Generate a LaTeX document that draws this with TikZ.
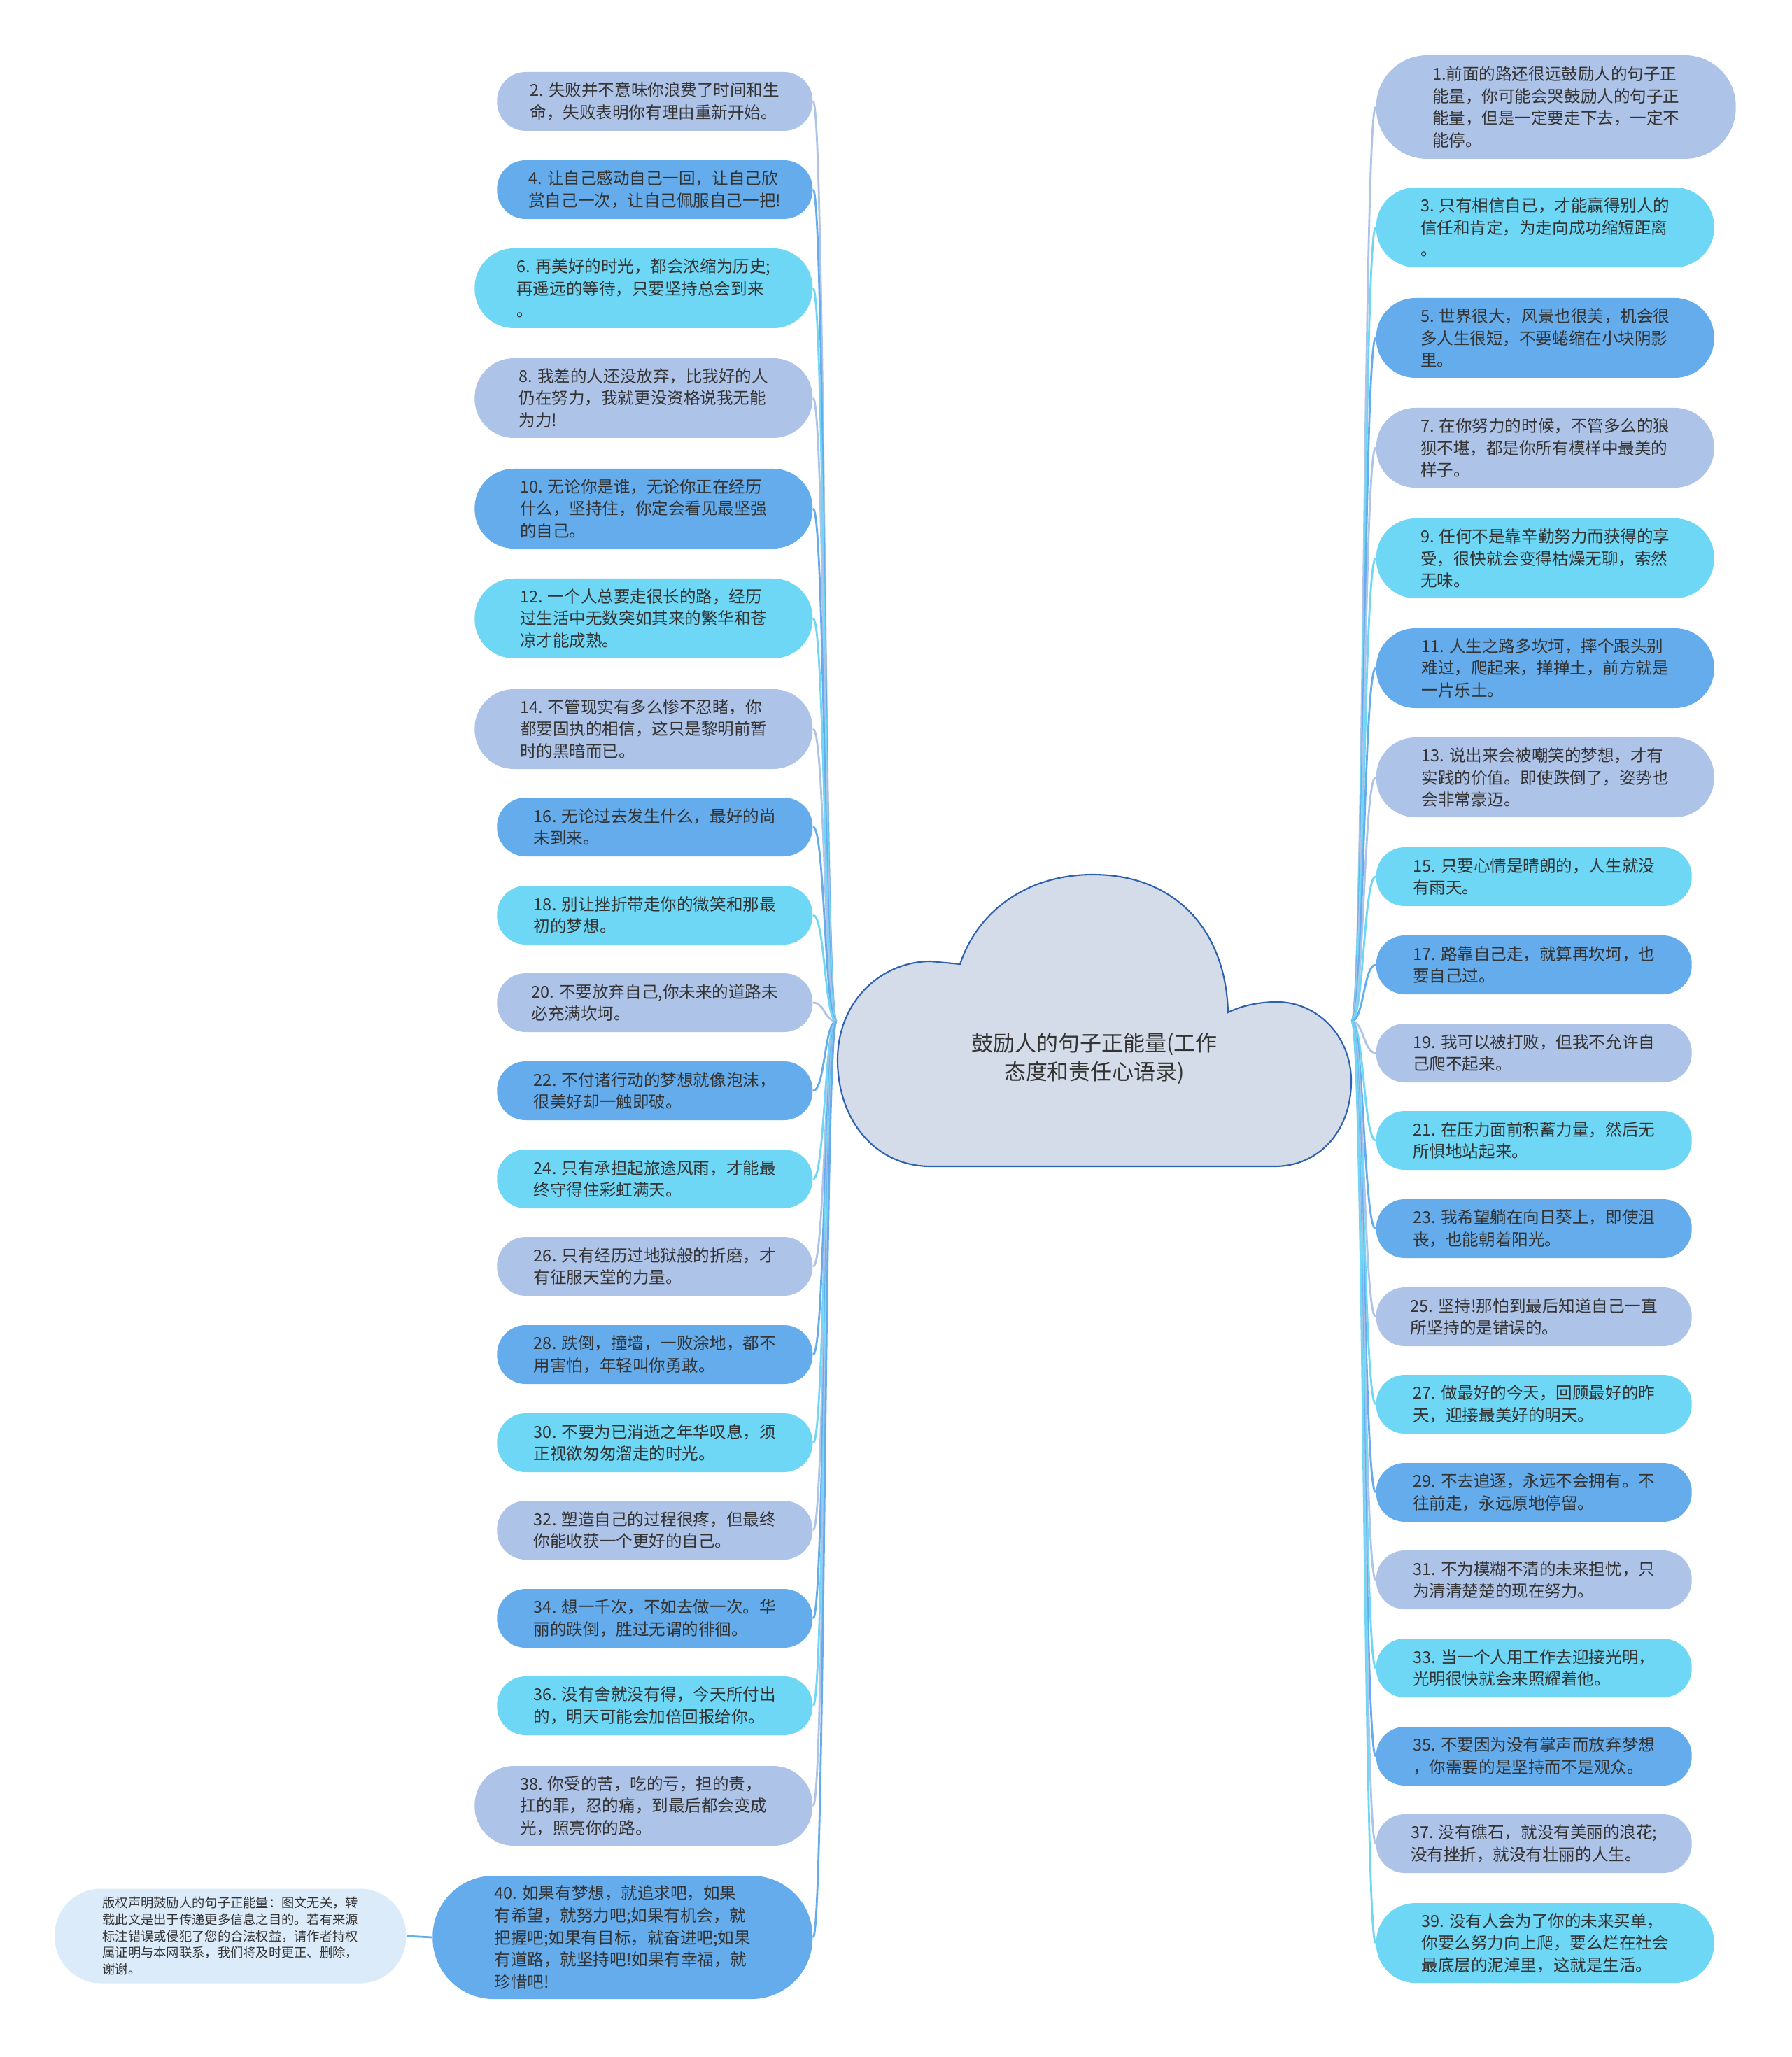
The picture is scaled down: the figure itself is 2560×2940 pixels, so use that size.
\documentclass[tikz,border=0pt]{standalone}
\usepackage{fontspec}
\newfontfamily\cjk{Noto Sans CJK SC}
\definecolor{lavfill}{HTML}{AEC3E8}
\definecolor{bluefill}{HTML}{64ACEC}
\definecolor{cyanfill}{HTML}{6DD7F5}
\definecolor{notefill}{HTML}{DCEBF9}
\definecolor{cloudfill}{HTML}{D3DCE8}
\definecolor{cloudline}{HTML}{2E62B0}
\definecolor{inkc}{HTML}{333333}

\begin{document}
\begin{tikzpicture}[
  x=0.1mm, y=-0.1mm,
  leaf/.style={rectangle, inner sep=0pt, align=left, text=inkc, font=\cjk\fontsize{6.7pt}{9pt}\selectfont},
  pillA/.style={leaf, minimum width=45.1mm, minimum height=8.4mm, rounded corners=4.1mm},
  pillB/.style={leaf, minimum width=48.3mm, minimum height=11.4mm, rounded corners=5.6mm},
  pillC/.style={leaf, minimum width=51.4mm, minimum height=14.8mm, rounded corners=7.3mm},
  pillD/.style={leaf, minimum width=54.3mm, minimum height=17.6mm, rounded corners=8.7mm},
  lav/.style={fill=lavfill}, blu/.style={fill=bluefill}, cya/.style={fill=cyanfill},
  linkl/.style={line width=0.8pt, out=180, in=0, out distance=1.7mm, in distance=1.7mm},
  linkr/.style={line width=0.8pt, out=0, in=180, out distance=1.7mm, in distance=1.7mm}
]
\useasboundingbox[fill=white] (0,0) rectangle (2560,2940);

% Root cloud
\node[minimum width=73.5mm, minimum height=41.9mm, inner sep=0pt] (root) at (1563.5,1459.5) {};
\draw[cloudline, fill=cloudfill, line width=0.6pt]
  (1330,1667) .. controls (1250,1667) and (1197,1600) .. (1197,1515)
  .. controls (1197,1430) and (1260,1374) .. (1330,1374)
  -- (1372,1378)
  .. controls (1398,1300) and (1470,1250) .. (1562,1250)
  .. controls (1680,1250) and (1752,1330) .. (1755,1447)
  .. controls (1775,1437) and (1800,1432) .. (1825,1432)
  .. controls (1882,1432) and (1931,1480) .. (1931,1545)
  .. controls (1931,1620) and (1882,1667) .. (1822,1667)
  -- cycle;
\node[font=\cjk\fontsize{8.8pt}{11.7pt}\selectfont, text=inkc, align=center] (title) at (1564,1513)
  {鼓励人的句子正能量(工作\\态度和责任心语录)};

% Left branch
\node[pillA, lav, anchor=east] (n2) at (1162,145) {2. 失败并不意味你浪费了时间和生\\命，失败表明你有理由重新开始。};
\node[pillA, blu, anchor=east] (n4) at (1162,271) {4. 让自己感动自己一回，让自己欣\\赏自己一次，让自己佩服自己一把!};
\node[pillB, cya, anchor=east] (n6) at (1162,412) {6. 再美好的时光，都会浓缩为历史;\\再遥远的等待，只要坚持总会到来\\。};
\node[pillB, lav, anchor=east] (n8) at (1162,569) {8. 我差的人还没放弃，比我好的人\\仍在努力，我就更没资格说我无能\\为力!};
\node[pillB, blu, anchor=east] (n10) at (1162,727) {10. 无论你是谁，无论你正在经历\\什么，坚持住，你定会看见最坚强\\的自己。};
\node[pillB, cya, anchor=east] (n12) at (1162,884) {12. 一个人总要走很长的路，经历\\过生活中无数突如其来的繁华和苍\\凉才能成熟。};
\node[pillB, lav, anchor=east] (n14) at (1162,1042) {14. 不管现实有多么惨不忍睹，你\\都要固执的相信，这只是黎明前暂\\时的黑暗而已。};
\node[pillA, blu, anchor=east] (n16) at (1162,1182) {16. 无论过去发生什么，最好的尚\\未到来。};
\node[pillA, cya, anchor=east] (n18) at (1162,1308) {18. 别让挫折带走你的微笑和那最\\初的梦想。};
\node[pillA, lav, anchor=east] (n20) at (1162,1433) {20. 不要放弃自己,你未来的道路未\\必充满坎坷。};
\node[pillA, blu, anchor=east] (n22) at (1162,1559) {22. 不付诸行动的梦想就像泡沫，\\很美好却一触即破。};
\node[pillA, cya, anchor=east] (n24) at (1162,1685) {24. 只有承担起旅途风雨，才能最\\终守得住彩虹满天。};
\node[pillA, lav, anchor=east] (n26) at (1162,1810) {26. 只有经历过地狱般的折磨，才\\有征服天堂的力量。};
\node[pillA, blu, anchor=east] (n28) at (1162,1936) {28. 跌倒，撞墙，一败涂地，都不\\用害怕，年轻叫你勇敢。};
\node[pillA, cya, anchor=east] (n30) at (1162,2062) {30. 不要为已消逝之年华叹息，须\\正视欲匆匆溜走的时光。};
\node[pillA, lav, anchor=east] (n32) at (1162,2187) {32. 塑造自己的过程很疼，但最终\\你能收获一个更好的自己。};
\node[pillA, blu, anchor=east] (n34) at (1162,2313) {34. 想一千次，不如去做一次。华\\丽的跌倒，胜过无谓的徘徊。};
\node[pillA, cya, anchor=east] (n36) at (1162,2438) {36. 没有舍就没有得，今天所付出\\的，明天可能会加倍回报给你。};
\node[pillB, lav, anchor=east] (n38) at (1162,2581) {38. 你受的苦，吃的亏，担的责，\\扛的罪，忍的痛，到最后都会变成\\光，照亮你的路。};
\node[pillD, blu, anchor=east] (n40) at (1162,2769) {40. 如果有梦想，就追求吧，如果\\有希望，就努力吧;如果有机会，就\\把握吧;如果有目标，就奋进吧;如果\\有道路，就坚持吧!如果有幸福，就\\珍惜吧!};

% Right branch
\node[pillC, lav, anchor=west] (n1) at (1966,153) {1.前面的路还很远鼓励人的句子正\\能量，你可能会哭鼓励人的句子正\\能量，但是一定要走下去，一定不\\能停。};
\node[pillB, cya, anchor=west] (n3) at (1966,325) {3. 只有相信自已，才能赢得别人的\\信任和肯定，为走向成功缩短距离\\。};
\node[pillB, blu, anchor=west] (n5) at (1966,483) {5. 世界很大，风景也很美，机会很\\多人生很短，不要蜷缩在小块阴影\\里。};
\node[pillB, lav, anchor=west] (n7) at (1966,640) {7. 在你努力的时候，不管多么的狼\\狈不堪，都是你所有模样中最美的\\样子。};
\node[pillB, cya, anchor=west] (n9) at (1966,798) {9. 任何不是靠辛勤努力而获得的享\\受，很快就会变得枯燥无聊，索然\\无味。};
\node[pillB, blu, anchor=west] (n11) at (1966,955) {11. 人生之路多坎坷，摔个跟头别\\难过，爬起来，掸掸土，前方就是\\一片乐土。};
\node[pillB, lav, anchor=west] (n13) at (1966,1111) {13. 说出来会被嘲笑的梦想，才有\\实践的价值。即使跌倒了，姿势也\\会非常豪迈。};
\node[pillA, cya, anchor=west] (n15) at (1966,1253) {15. 只要心情是晴朗的，人生就没\\有雨天。};
\node[pillA, blu, anchor=west] (n17) at (1966,1379) {17. 路靠自己走，就算再坎坷，也\\要自己过。};
\node[pillA, lav, anchor=west] (n19) at (1966,1505) {19. 我可以被打败，但我不允许自\\己爬不起来。};
\node[pillA, cya, anchor=west] (n21) at (1966,1630) {21. 在压力面前积蓄力量，然后无\\所惧地站起来。};
\node[pillA, blu, anchor=west] (n23) at (1966,1756) {23. 我希望躺在向日葵上，即使沮\\丧，也能朝着阳光。};
\node[pillA, lav, anchor=west] (n25) at (1966,1882) {25. 坚持!那怕到最后知道自己一直\\所坚持的是错误的。};
\node[pillA, cya, anchor=west] (n27) at (1966,2007) {27. 做最好的今天，回顾最好的昨\\天，迎接最美好的明天。};
\node[pillA, blu, anchor=west] (n29) at (1966,2133) {29. 不去追逐，永远不会拥有。不\\往前走，永远原地停留。};
\node[pillA, lav, anchor=west] (n31) at (1966,2258) {31. 不为模糊不清的未来担忧，只\\为清清楚楚的现在努力。};
\node[pillA, cya, anchor=west] (n33) at (1966,2384) {33. 当一个人用工作去迎接光明，\\光明很快就会来照耀着他。};
\node[pillA, blu, anchor=west] (n35) at (1966,2510) {35. 不要因为没有掌声而放弃梦想\\，你需要的是坚持而不是观众。};
\node[pillA, lav, anchor=west] (n37) at (1966,2635) {37. 没有礁石，就没有美丽的浪花;\\没有挫折，就没有壮丽的人生。};
\node[pillB, cya, anchor=west] (n39) at (1966,2777) {39. 没有人会为了你的未来买单，\\你要么努力向上爬，要么烂在社会\\最底层的泥淖里，这就是生活。};

% Note
\node[leaf, fill=notefill, minimum width=50.2mm, minimum height=13.5mm, rounded corners=6.6mm,
  font=\cjk\fontsize{5.2pt}{6.8pt}\selectfont, anchor=east] (note) at (581,2767)
  {版权声明鼓励人的句子正能量：图文无关，转\\载此文是出于传递更多信息之目的。若有来源\\标注错误或侵犯了您的合法权益，请作者持权\\属证明与本网联系，我们将及时更正、删除，\\谢谢。};

% Connections
\draw[linkl, lavfill] (root.west) to (n2.east);
\draw[linkl, bluefill] (root.west) to (n4.east);
\draw[linkl, cyanfill] (root.west) to (n6.east);
\draw[linkl, lavfill] (root.west) to (n8.east);
\draw[linkl, bluefill] (root.west) to (n10.east);
\draw[linkl, cyanfill] (root.west) to (n12.east);
\draw[linkl, lavfill] (root.west) to (n14.east);
\draw[linkl, bluefill] (root.west) to (n16.east);
\draw[linkl, cyanfill] (root.west) to (n18.east);
\draw[linkl, lavfill] (root.west) to (n20.east);
\draw[linkl, bluefill] (root.west) to (n22.east);
\draw[linkl, cyanfill] (root.west) to (n24.east);
\draw[linkl, lavfill] (root.west) to (n26.east);
\draw[linkl, bluefill] (root.west) to (n28.east);
\draw[linkl, cyanfill] (root.west) to (n30.east);
\draw[linkl, lavfill] (root.west) to (n32.east);
\draw[linkl, bluefill] (root.west) to (n34.east);
\draw[linkl, cyanfill] (root.west) to (n36.east);
\draw[linkl, lavfill] (root.west) to (n38.east);
\draw[linkl, bluefill] (root.west) to (n40.east);
\draw[linkr, lavfill] (root.east) to (n1.west);
\draw[linkr, cyanfill] (root.east) to (n3.west);
\draw[linkr, bluefill] (root.east) to (n5.west);
\draw[linkr, lavfill] (root.east) to (n7.west);
\draw[linkr, cyanfill] (root.east) to (n9.west);
\draw[linkr, bluefill] (root.east) to (n11.west);
\draw[linkr, lavfill] (root.east) to (n13.west);
\draw[linkr, cyanfill] (root.east) to (n15.west);
\draw[linkr, bluefill] (root.east) to (n17.west);
\draw[linkr, lavfill] (root.east) to (n19.west);
\draw[linkr, cyanfill] (root.east) to (n21.west);
\draw[linkr, bluefill] (root.east) to (n23.west);
\draw[linkr, lavfill] (root.east) to (n25.west);
\draw[linkr, cyanfill] (root.east) to (n27.west);
\draw[linkr, bluefill] (root.east) to (n29.west);
\draw[linkr, lavfill] (root.east) to (n31.west);
\draw[linkr, cyanfill] (root.east) to (n33.west);
\draw[linkr, bluefill] (root.east) to (n35.west);
\draw[linkr, lavfill] (root.east) to (n37.west);
\draw[linkr, cyanfill] (root.east) to (n39.west);
\draw[bluefill, line width=0.8pt] (n40.west) -- (note.east);
\end{tikzpicture}
\end{document}
